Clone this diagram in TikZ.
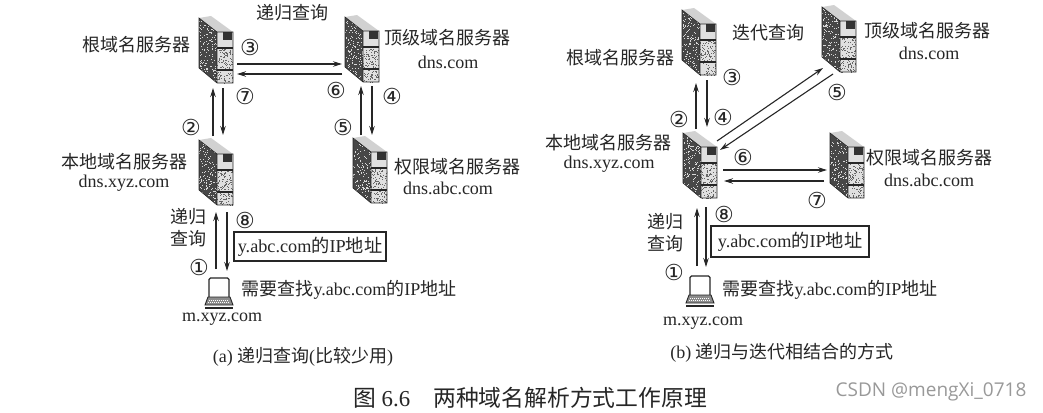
\documentclass[tikz,border=0pt]{standalone}
\usepackage{fontspec}
\setmainfont{Liberation Serif}
\newfontfamily\cjk{Noto Sans CJK SC}
\newfontfamily\symf{DejaVu Sans}
\newfontfamily\wmf{Open Sans}
\usetikzlibrary{arrows.meta}
\definecolor{ink}{HTML}{262626}
\tikzset{
  arr/.style={draw=ink,line width=1.1pt,-{Stealth[length=9pt,width=5.5pt]}},
  srvbox/.style={minimum width=34pt,minimum height=65pt,inner sep=0pt,outer sep=0pt},
  pcbox/.style={minimum width=28pt,minimum height=31pt,inner sep=0pt,outer sep=0pt},
  lab/.style={text=ink,inner sep=0pt,font=\fontsize{18}{20}\cjk,align=center},
  lat/.style={text=ink,inner sep=0pt,font=\fontsize{18}{20}\selectfont},
  num/.style={text=ink,inner sep=0pt,font=\fontsize{22}{23}\symf},
  ansbox/.style={draw=ink,line width=1.3pt,inner sep=0pt,outer sep=0pt,text=ink,font=\fontsize{18.2}{20}\selectfont},
}
\newcommand\serverpic[3]{%
  \begin{scope}[shift={(#2,#3)}]
    \fill[black!18] (0,0)--(12,-2)--(34,14)--(18,14)--cycle;
    \begin{scope}
      \clip (0,0)--(18,14)--(18,65)--(0,50)--cycle;
      \fill[black!72] (0,-2) rectangle (18,66);
      \foreach \i in {1,...,170}{%
        \pgfmathsetmacro\rx{rnd*18}\pgfmathsetmacro\ry{rnd*66}%
        \fill[white!85!black] (\rx,\ry) rectangle +(0.9,0.9);}
    \end{scope}
    \begin{scope}
      \clip (18,14) rectangle (34,65);
      \fill[black!12] (18,14) rectangle (34,65);
      \foreach \i in {1,...,130}{%
        \pgfmathsetmacro\rx{18+rnd*16}\pgfmathsetmacro\ry{30+rnd*35}%
        \fill[black!60] (\rx,\ry) rectangle +(0.9,0.9);}
    \end{scope}
    \fill[black!80] (24,14) rectangle (33,22);
    \draw[ink,line width=1.1pt] (18,30)--(34,30) (18,52)--(34,52);
    \draw[ink,line width=0.6pt] (0,0)--(18,14)--(34,14)--(34,65)--(18,65)--(0,50)--cycle (18,14)--(18,65);
  \end{scope}
  \node[srvbox,anchor=north west] (#1) at (#2,#3) {};%
}
\newcommand\laptoppic[3]{%
  \begin{scope}[shift={(#2,#3)}]
    \draw[ink,line width=1.1pt,rounded corners=1.5pt] (4,20)--(4,1)--(24,1)--(24,20);
    \draw[ink,line width=0.9pt,fill=black!45] (3,20)--(25,20)--(28,28)--(0,28)--cycle;
    \draw[white,line width=0.5pt,dash pattern=on 1pt off 1pt] (4,23)--(24,23) (3,25.5)--(25,25.5);
    \draw[ink,line width=1.6pt] (0,31)--(28,31);
  \end{scope}
  \node[pcbox,anchor=north west] (#1) at (#2,#3) {};%
}
\begin{document}
\begin{tikzpicture}[x=1pt,y=-1pt]
\pgfmathsetseed{7}
\useasboundingbox (0,0) rectangle (1043,412);
\fill[white] (0,0) rectangle (1043,412);
% ---------- (a)
\serverpic{aroot}{199}{18}
\serverpic{atop}{345}{17}
\serverpic{alocal}{199}{140}
\serverpic{aauth}{353}{138}
\laptoppic{apc}{205}{277}
\draw[arr] ([shift={(21,13.5)}]aroot.center) -- ([shift={(-20,14.5)}]atop.center);
\draw[arr] ([shift={(-20,24.5)}]atop.center) -- ([shift={(21,23.5)}]aroot.center);
\draw[arr] ([shift={(-3,-4)}]alocal.north) -- ([shift={(-3,5)}]aroot.south);
\draw[arr] ([shift={(7,5)}]aroot.south) -- ([shift={(7,-5)}]alocal.north);
\draw[arr] ([shift={(-9,-3)}]aauth.north) -- ([shift={(-1,4)}]atop.south);
\draw[arr] ([shift={(10,4)}]atop.south) -- ([shift={(2,-3)}]aauth.north);
\draw[arr] ([shift={(-3,-8)}]apc.north) -- ([shift={(0,7)}]alocal.south);
\draw[arr] ([shift={(11,7)}]alocal.south) -- ([shift={(8,-6)}]apc.north);
\node[lab] (at1) at (292,13) {递归查询};
\node[lab] (at2) at (136,45) {根域名服务器};
\node[lab] (at3) at (447,38) {顶级域名服务器};
\node[lat] (at4) at (448,62) {dns.com};
\node[lab] (at5) at (124,162) {本地域名服务器};
\node[lat] (at6) at (124,183) {dns.xyz.com};
\node[lab] (at7) at (457,167) {权限域名服务器};
\node[lat] (at8) at (448,188) {dns.abc.com};
\node[lab] (at9) at (188,228) {递归\\[2pt]查询};
\node[ansbox,minimum width=152pt,minimum height=29pt] (abox) at (310,246.5) {y.abc.com{\cjk 的}IP{\cjk 地址}};
\node[lat] (at10) at (349,290) {{\cjk 需要查找}y.abc.com{\cjk 的}IP{\cjk 地址}};
\node[lat] (at11) at (222,319) {m.xyz.com};
\node[lat] (at12) at (303,357) {(a) {\cjk 递归查询}({\cjk 比较少用})};
\node[num] (an3) at (250,47) {③};
\node[num] (an7) at (245,96) {⑦};
\node[num] (an6) at (336,90) {⑥};
\node[num] (an4) at (392,96) {④};
\node[num] (an2) at (191,127) {②};
\node[num] (an5) at (343,127) {⑤};
\node[num] (an8) at (245,220) {⑧};
\node[num] (an1) at (199,267) {①};
% ---------- (b)
\serverpic{broot}{682}{10}
\serverpic{btop}{822}{7}
\serverpic{blocal}{683}{133}
\serverpic{bauth}{830}{133}
\laptoppic{bpc}{686}{275}
\draw[arr] ([shift={(-4,-4)}]blocal.north) -- ([shift={(-3,8)}]broot.south);
\draw[arr] ([shift={(8,5)}]broot.south) -- ([shift={(7,-6)}]blocal.north);
\draw[arr] ([shift={(17,-24.5)}]blocal.center) -- ([shift={(-16,28.5)}]btop.center);
\draw[arr] ([shift={(-6,34.5)}]btop.center) -- ([shift={(20,-15.5)}]blocal.center);
\draw[arr] ([shift={(23,4.5)}]blocal.center) -- ([shift={(-20,4.5)}]bauth.center);
\draw[arr] ([shift={(-23,15.5)}]bauth.center) -- ([shift={(24,15.5)}]blocal.center);
\draw[arr] ([shift={(-3,-9)}]bpc.north) -- ([shift={(-3,10)}]blocal.south);
\draw[arr] ([shift={(6,9)}]blocal.south) -- ([shift={(6,-8)}]bpc.north);
\node[lab] (bt1) at (768,33) {迭代查询};
\node[lab] (bt2) at (620,58) {根域名服务器};
\node[lab] (bt3) at (927,31) {顶级域名服务器};
\node[lat] (bt4) at (929,53) {dns.com};
\node[lab] (bt5) at (608,143) {本地域名服务器};
\node[lat] (bt6) at (609,164) {dns.xyz.com};
\node[lab] (bt7) at (929,158) {权限域名服务器};
\node[lat] (bt8) at (929,180) {dns.abc.com};
\node[lab] (bt9) at (665,233) {递归\\[2pt]查询};
\node[ansbox,minimum width=158pt,minimum height=31pt] (bbox) at (790,241.5) {y.abc.com{\cjk 的}IP{\cjk 地址}};
\node[lat] (bt10) at (830,290) {{\cjk 需要查找}y.abc.com{\cjk 的}IP{\cjk 地址}};
\node[lat] (bt11) at (703,323) {m.xyz.com};
\node[lat] (bt12) at (782,353) {(b) {\cjk 递归与迭代相结合的方式}};
\node[num] (bn3) at (732,77) {③};
\node[num] (bn5) at (837,92) {⑤};
\node[num] (bn2) at (679,119) {②};
\node[num] (bn4) at (723,117) {④};
\node[num] (bn6) at (743,157) {⑥};
\node[num] (bn7) at (817,200) {⑦};
\node[num] (bn8) at (724,214) {⑧};
\node[num] (bn1) at (674,272) {①};
% ---------- caption
\node[text=ink,inner sep=0pt,anchor=west,font=\fontsize{22.8}{24}\selectfont] (cap) at (353,398) {{\cjk 图} 6.6\hspace{23pt}{\cjk 两种域名解析方式工作原理}};
\node[text=black!40,inner sep=0pt,font=\fontsize{19}{21}\wmf] (wm) at (931,392) {CSDN @mengXi\_0718};
\end{tikzpicture}
\end{document}
